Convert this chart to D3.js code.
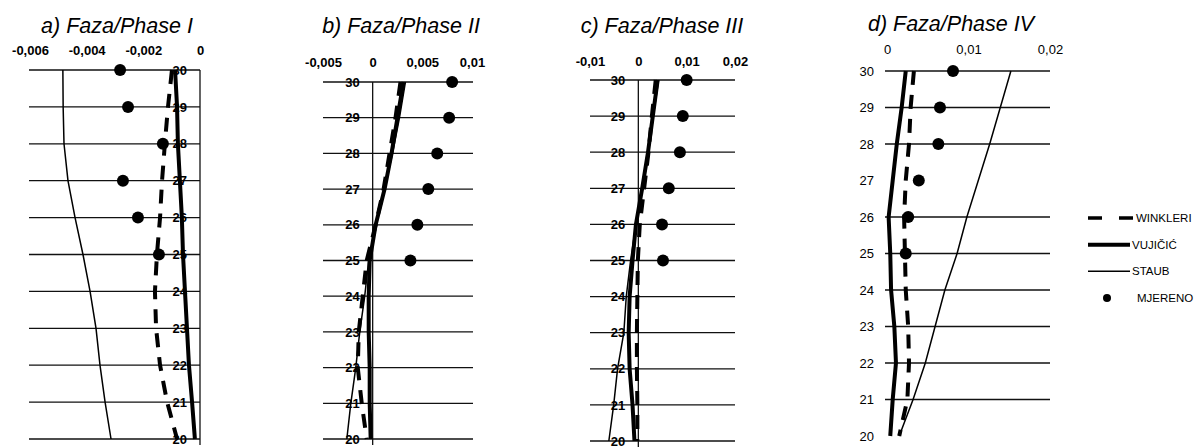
<!DOCTYPE html>
<html lang="hr">
<head>
<meta charset="UTF-8">
<script src="https://cdn.jsdelivr.net/npm/d3@7"></script>
<title>Faze</title>
<style>
  body { margin: 0; background: #fff; }
  svg text { font-family: "Liberation Sans", Arial, sans-serif; }
</style>
</head>
<body>
<script>
// depth levels (y) and the measured ones
const depths = [30, 29, 28, 27, 26, 25, 24, 23, 22, 21, 20];
const measuredDepths = [30, 29, 28, 27, 26, 25];

const titles = ["a) Faza/Phase I", "b) Faza/Phase II", "c) Faza/Phase III", "d) Faza/Phase IV"];
const xTicks1 = [-0.006, -0.004, -0.002, 0];
const xTicks2 = [-0.005, 0, 0.005, 0.01];
const xTicks3 = [-0.01, 0, 0.01, 0.02];
const xTicks4 = [0, 0.01, 0.02];

// Phase I
const winkler1 = [-0.00099, -0.00113, -0.00124, -0.00134, -0.00141, -0.00152, -0.00159, -0.00155, -0.00141, -0.00116, -0.00081];
const vujicic1 = [-0.00088, -0.00081, -0.00078, -0.00071, -0.00064, -0.0006, -0.00053, -0.00046, -0.00039, -0.00028, -0.00018];
const staub1   = [-0.00484, -0.00483, -0.0048, -0.00466, -0.00441, -0.00413, -0.00388, -0.00367, -0.00353, -0.00335, -0.00314];
const mjereno1 = [-0.00282, -0.00254, -0.00131, -0.00272, -0.00219, -0.00145];

// Phase II
const winkler2 = [0.0028, 0.0023, 0.0017, 0.0011, 0.0003, -0.0006, -0.001, -0.0014, -0.0015, -0.0011, -0.0006];
const vujicic2 = [0.0031, 0.0025, 0.0019, 0.0012, 0.0003, -0.0003, -0.0004, -0.0004, -0.0003, -0.0003, -0.0002];
const staub2   = [0.0033, 0.0027, 0.002, 0.0012, 0.0003, -0.0004, -0.0008, -0.0013, -0.0017, -0.0022, -0.0026];
const mjereno2 = [0.008, 0.0077, 0.0065, 0.0056, 0.0045, 0.0038];

// Phase III
const winkler3 = [0.0036, 0.0028, 0.0021, 0.0012, 0.0003, -0.0001, -0.0002, -0.0003, -0.0003, -0.0002, -0.0002];
const vujicic3 = [0.004, 0.003, 0.002, 0.0008, -0.0005, -0.0012, -0.0018, -0.002, -0.0018, -0.0012, -0.0008];
const staub3   = [0.0042, 0.0031, 0.0021, 0.0009, -0.0005, -0.0016, -0.0025, -0.003, -0.0043, -0.0051, -0.0061];
const mjereno3 = [0.01, 0.0092, 0.0086, 0.0063, 0.0049, 0.0051];

// Phase IV
const winkler4 = [0.0033, 0.0029, 0.0027, 0.0023, 0.0021, 0.0022, 0.0023, 0.0026, 0.0027, 0.0025, 0.0015];
const vujicic4 = [0.0023, 0.0018, 0.0012, 0.0007, 0.0002, 0.0004, 0.0005, 0.0009, 0.0011, 0.0007, 0.0004];
const staub4   = [0.0152, 0.0139, 0.0126, 0.0112, 0.0098, 0.0086, 0.0071, 0.0059, 0.0047, 0.0032, 0.0015];
const mjereno4 = [0.0081, 0.0065, 0.0063, 0.0039, 0.0026, 0.0023];
const gridDepths4 = [30, 29, 28, 26, 25, 24, 23, 22, 21];

const legendLabels = ["WINKLERI", "VUJIČIĆ", "STAUB", "MJERENO"];

const W = 1203, H = 448;
const svg = d3.select("body").append("svg").attr("width", W).attr("height", H);

const fmt = d => String(d).replace(".", ",");

const panels = [
  { title: titles[0], titleX: 117, titleY: 33, ticks: xTicks1, xd: [-0.006, 0], xr: [30, 200], gx: [29, 200], yr: [439, 70], tickY: 55,
    winkler: winkler1, vujicic: vujicic1, staub: staub1, mjereno: mjereno1, grid: depths, axis: true, bold: true },
  { title: titles[1], titleX: 401, titleY: 33, ticks: xTicks2, xd: [-0.005, 0.01], xr: [323, 472], gx: [323, 473], yr: [439, 82], tickY: 67,
    winkler: winkler2, vujicic: vujicic2, staub: staub2, mjereno: mjereno2, grid: depths, axis: true, bold: true },
  { title: titles[2], titleX: 662, titleY: 33, ticks: xTicks3, xd: [-0.01, 0.02], xr: [590, 735], gx: [590, 735], yr: [441, 80], tickY: 66,
    winkler: winkler3, vujicic: vujicic3, staub: staub3, mjereno: mjereno3, grid: depths, axis: true, bold: true },
  { title: titles[3], titleX: 951, titleY: 31, ticks: xTicks4, xd: [0, 0.02], xr: [887, 1050], gx: [885, 1050], yr: [436, 71], tickY: 54,
    winkler: winkler4, vujicic: vujicic4, staub: staub4, mjereno: mjereno4, grid: gridDepths4, axis: false, bold: false }
];

panels.forEach(p => {
  const x = d3.scaleLinear().domain(p.xd).range(p.xr);
  const y = d3.scaleLinear().domain([20, 30]).range(p.yr);
  const g = svg.append("g");

  g.append("text")
    .attr("x", p.titleX).attr("y", p.titleY)
    .attr("text-anchor", "middle")
    .attr("font-size", 21.5).attr("font-style", "italic")
    .text(p.title);

  // top value axis
  const ax = g.append("g")
    .attr("transform", `translate(0,${p.tickY})`)
    .call(d3.axisTop(x).tickValues(p.ticks).tickSize(0).tickPadding(0).tickFormat(fmt));
  ax.select(".domain").remove();
  ax.selectAll("text")
    .attr("font-size", 13)
    .attr("font-weight", p.bold ? "bold" : "normal")
    .attr("font-family", "'Liberation Sans', Arial, sans-serif")
    .attr("fill", "#000");

  // horizontal grid lines
  g.selectAll(".grid").data(p.grid).enter().append("line")
    .attr("x1", p.gx[0]).attr("x2", p.gx[1])
    .attr("y1", d => y(d)).attr("y2", d => y(d))
    .attr("stroke", "#111").attr("stroke-width", 1.3);

  if (p.axis) {
    g.append("line")
      .attr("x1", x(0)).attr("x2", x(0))
      .attr("y1", y(30)).attr("y2", y(20) + 6)
      .attr("stroke", "#111").attr("stroke-width", 1.3);
  }

  // depth labels
  const ay = g.append("g")
    .attr("transform", `translate(${x(0) - 13},0)`)
    .call(d3.axisLeft(y).tickValues(depths).tickSize(0).tickPadding(0));
  ay.select(".domain").remove();
  ay.selectAll("text")
    .attr("font-size", 13)
    .attr("font-weight", p.bold ? "bold" : "normal")
    .attr("font-family", "'Liberation Sans', Arial, sans-serif")
    .attr("fill", "#000");

  const line = d3.line().x(d => x(d[0])).y(d => y(d[1]));

  g.append("path")
    .attr("d", line(depths.map((d, i) => [p.staub[i], d])))
    .attr("fill", "none").attr("stroke", "#000").attr("stroke-width", 1.5);
  g.append("path")
    .attr("d", line(depths.map((d, i) => [p.vujicic[i], d])))
    .attr("fill", "none").attr("stroke", "#000").attr("stroke-width", 4);
  g.append("path")
    .attr("d", line(depths.map((d, i) => [p.winkler[i], d])))
    .attr("fill", "none").attr("stroke", "#000").attr("stroke-width", 4)
    .attr("stroke-dasharray", "14,10");

  g.selectAll(".dot").data(measuredDepths).enter().append("circle")
    .attr("cx", (d, i) => x(p.mjereno[i]))
    .attr("cy", d => y(d))
    .attr("r", 6).attr("fill", "#000");
});

// legend
const legendY = d3.scalePoint().domain(legendLabels).range([218, 298]);
const lg = svg.append("g");
lg.selectAll("text").data(legendLabels).enter().append("text")
  .attr("x", (d, i) => i === 0 ? 1136 : (i === 3 ? 1137 : 1132))
  .attr("y", d => legendY(d))
  .attr("dy", "0.35em")
  .attr("font-size", 11.5)
  .text(d => d);

lg.append("line").attr("x1", 1088).attr("x2", 1135)
  .attr("y1", legendY("WINKLERI")).attr("y2", legendY("WINKLERI"))
  .attr("stroke", "#000").attr("stroke-width", 3.5).attr("stroke-dasharray", "14,17");
lg.append("line").attr("x1", 1088).attr("x2", 1130)
  .attr("y1", legendY("VUJIČIĆ")).attr("y2", legendY("VUJIČIĆ"))
  .attr("stroke", "#000").attr("stroke-width", 4);
lg.append("line").attr("x1", 1088).attr("x2", 1130)
  .attr("y1", legendY("STAUB")).attr("y2", legendY("STAUB"))
  .attr("stroke", "#000").attr("stroke-width", 1.5);
lg.append("circle").attr("cx", 1107).attr("cy", legendY("MJERENO"))
  .attr("r", 4).attr("fill", "#000");
</script>
</body>
</html>
